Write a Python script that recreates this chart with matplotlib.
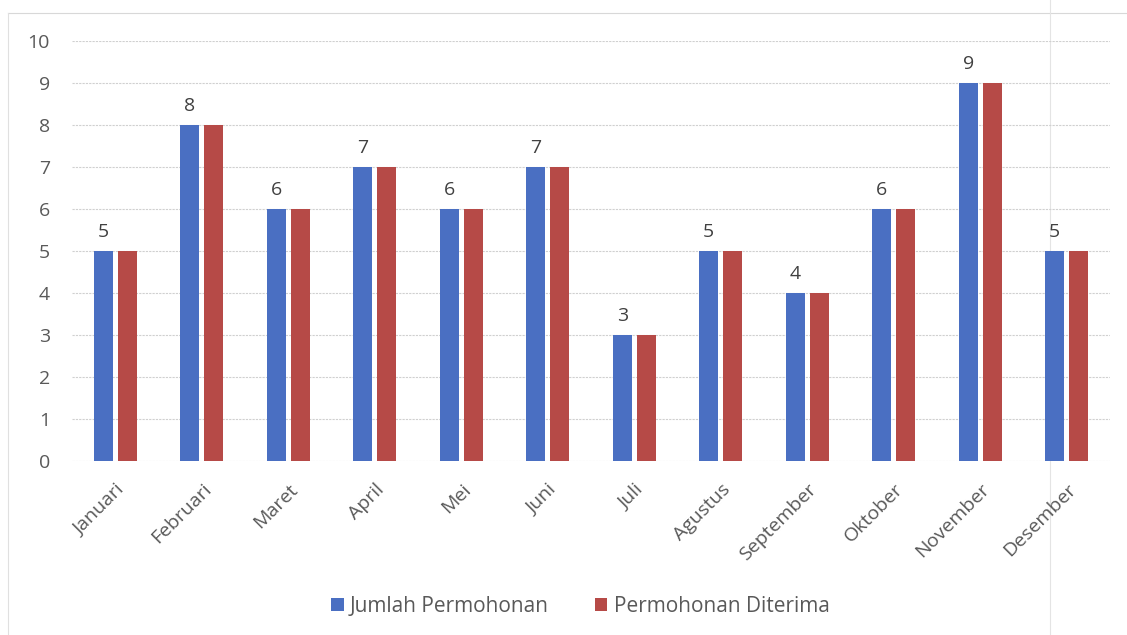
import matplotlib.pyplot as plt
import numpy as np

bulan = ['Januari', 'Februari', 'Maret', 'April', 'Mei', 'Juni', 'Juli',
         'Agustus', 'September', 'Oktober', 'November', 'Desember']
jumlah_permohonan = [5, 8, 6, 7, 6, 7, 3, 5, 4, 6, 9, 5]
permohonan_diterima = [5, 8, 6, 7, 6, 7, 3, 5, 4, 6, 9, 5]

plt.rcParams['font.family'] = ['Open Sans', 'DejaVu Sans']

fig = plt.figure(figsize=(11.27, 6.35), dpi=100)
ax = fig.add_axes([0.064, 0.274, 0.921, 0.661])
ax.patch.set_visible(False)

x = np.arange(len(bulan))
w = 0.22
off = 0.14
ax.bar(x - off, jumlah_permohonan, w, color='#4a6fc2', label='Jumlah Permohonan')
ax.bar(x + off, permohonan_diterima, w, color='#b64a47', label='Permohonan Diterima')

for xi, v in zip(x, jumlah_permohonan):
    ax.text(xi - off, v + 0.25, str(v), ha='center', va='bottom',
            fontsize=14, color='#404040')

ax.set_xlim(-0.5, 11.5)
ax.set_ylim(0, 10)
ax.set_yticks(range(0, 11))
ax.tick_params(axis='y', length=0, labelsize=14, labelcolor='#595959', pad=16)
ax.set_xticks(x)
ax.set_xticklabels(bulan, rotation=45, ha='right', rotation_mode='anchor',
                   fontsize=14, color='#595959')
ax.tick_params(axis='x', length=0, pad=14)
ax.grid(axis='y', color='#d0d0d0', linestyle=(0, (2, 1)), linewidth=0.8)
ax.set_axisbelow(True)
for s in ax.spines.values():
    s.set_visible(False)

fig.legend(loc='center', bbox_to_anchor=(0.515, 0.045), ncol=2, frameon=False,
           fontsize=15, handlelength=0.6, handleheight=0.6, columnspacing=2.2,
           handletextpad=0.3, labelcolor='#595959')

# chart border remnants from the scanned page
fig.add_artist(plt.Line2D([0.007, 1.0], [0.98, 0.98], color='#d8d8d8', lw=0.8, zorder=-1))
fig.add_artist(plt.Line2D([0.007, 0.007], [0.0, 0.98], color='#e0e0e0', lw=0.8, zorder=-1))
fig.add_artist(plt.Line2D([0.932, 0.932], [0.0, 1.0], color='#e4e4e4', lw=0.8, zorder=-1))

fig.savefig('out.png', dpi=100)
